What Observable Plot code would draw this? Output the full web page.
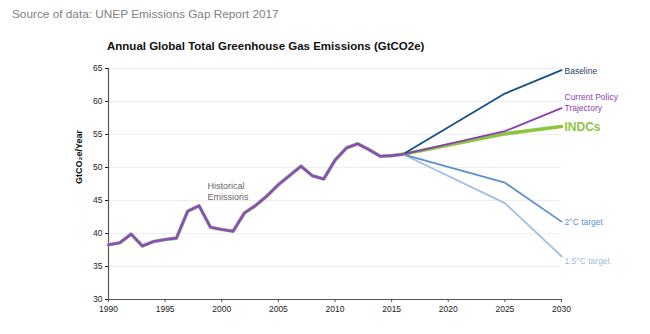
<!DOCTYPE html>
<html>
<head>
<meta charset="utf-8">
<script src="https://cdn.jsdelivr.net/npm/d3@7"></script>
<script src="https://cdn.jsdelivr.net/npm/@observablehq/plot@0.6"></script>
<style>
  html, body { margin: 0; padding: 0; background: #fff; }
  body { width: 650px; height: 334px; overflow: hidden; font-family: "Liberation Sans", Arial, sans-serif; }
  #head { position: relative; height: 56px; }
  #source { position: absolute; left: 12px; top: 7px; font-size: 11.8px; color: #808080; }
  #title { position: absolute; left: 107px; top: 40px; font-size: 11.5px; font-weight: bold; color: #111; }
</style>
</head>
<body>
<div id="head">
  <div id="source">Source of data: UNEP Emissions Gap Report 2017</div>
  <div id="title">Annual Global Total Greenhouse Gas Emissions (GtCO2e)</div>
</div>
<div id="chart"></div>
<script>
// Historical emissions 1990–2016
const histYears = [1990,1991,1992,1993,1994,1995,1996,1997,1998,1999,2000,2001,2002,2003,2004,2005,2006,2007,2008,2009,2010,2011,2012,2013,2014,2015,2016];
const histValues = [38.3,38.6,39.9,38.1,38.8,39.1,39.3,43.4,44.2,40.95,40.6,40.35,43.1,44.25,45.7,47.4,48.8,50.2,48.75,48.25,51.1,52.95,53.6,52.7,51.7,51.8,52.0];

// Projections
const projYears = [2016, 2025, 2030];
const baseline = [52.0, 61.2, 64.75];
const currentPolicy = [52.0, 55.5, 59.0];
const indcs = [52.0, 55.1, 56.2];
const target2 = [52.0, 47.7, 41.8];
const target15 = [52.0, 44.6, 36.55];

const yTicks = [30, 35, 40, 45, 50, 55, 60, 65];
const xTicks = [1990, 1995, 2000, 2005, 2010, 2015, 2020, 2025, 2030];

const hist = histYears.map((y, i) => ({year: y, value: histValues[i]}));
const toRows = (vals) => projYears.map((y, i) => ({year: y, value: vals[i]}));
const series = [
  {name: "1.5°C target", rows: toRows(target15), color: "#a3bfe6", label: "#a6bde0", width: 1.8, dy: 4, size: 8.5, weight: "normal"},
  {name: "2°C target", rows: toRows(target2), color: "#5b8fd2", label: "#5b8fd2", width: 1.8, dy: 0, size: 8.5, weight: "normal"},
  {name: "INDCs", rows: toRows(indcs), color: "#8cc63f", label: "#8cc63f", width: 3.6, dy: 0, size: 12, weight: "bold"},
  {name: "Current Policy\nTrajectory", rows: toRows(currentPolicy), color: "#8b3fb6", label: "#8b3fb6", width: 1.8, dy: -6, size: 8.5, weight: "normal"},
  {name: "Baseline", rows: toRows(baseline), color: "#174f87", label: "#1f3f6b", width: 1.8, dy: 0, size: 8.5, weight: "normal"}
];

const marks = [
  Plot.ruleY(yTicks.filter(d => d > 30), {x1: 1990, x2: 2030, stroke: "#eeeeee", strokeWidth: 1}),
  Plot.axisX({ticks: xTicks, tickFormat: d => String(d), tickSize: 3, tickPadding: 3, fontSize: 8.5, label: null, color: "#222", stroke: "#555"}),
  Plot.axisY({ticks: yTicks, tickSize: 3, tickPadding: 3, fontSize: 8.5, label: null, color: "#222"}),
  Plot.ruleY([30], {x1: 1990, x2: 2030, stroke: "#555", strokeWidth: 1.2}),
  Plot.ruleX([1990], {y1: 30, y2: 65, stroke: "#555", strokeWidth: 1.2}),
  Plot.text(["GtCO₂e/Year"], {frameAnchor: "left", rotate: -90, dx: -29, fontSize: 9, fontWeight: "bold", fill: "#111"})
];

for (const s of series) {
  marks.push(Plot.line(s.rows, {x: "year", y: "value", stroke: s.color, strokeWidth: s.width, curve: "linear"}));
}
marks.push(Plot.line(hist, {x: "year", y: "value", stroke: "#9cc36a", strokeWidth: 3.6}));
marks.push(Plot.line(hist, {x: "year", y: "value", stroke: "#8b4cc0", strokeWidth: 2.6}));

for (const s of series) {
  const last = s.rows[s.rows.length - 1];
  marks.push(Plot.text([last], {x: "year", y: "value", text: () => s.name, textAnchor: "start", dx: 3, dy: s.dy, fill: s.label, fontSize: s.size, fontWeight: s.weight, lineHeight: 1.25}));
}
marks.push(Plot.text([hist[9]], {x: "year", y: "value", text: () => "Historical\nEmissions", textAnchor: "start", dx: -3, dy: -36, fill: "#6e6660", fontSize: 9, lineHeight: 1.2}));

const chart = Plot.plot({
  width: 650,
  height: 278,
  marginTop: 12,
  marginBottom: 35,
  marginLeft: 108,
  marginRight: 89,
  style: {fontFamily: "Liberation Sans, Arial, sans-serif", background: "#fff"},
  x: {domain: [1990, 2030], label: null},
  y: {domain: [30, 65], label: null},
  marks
});
document.getElementById("chart").appendChild(chart);
</script>
</body>
</html>
